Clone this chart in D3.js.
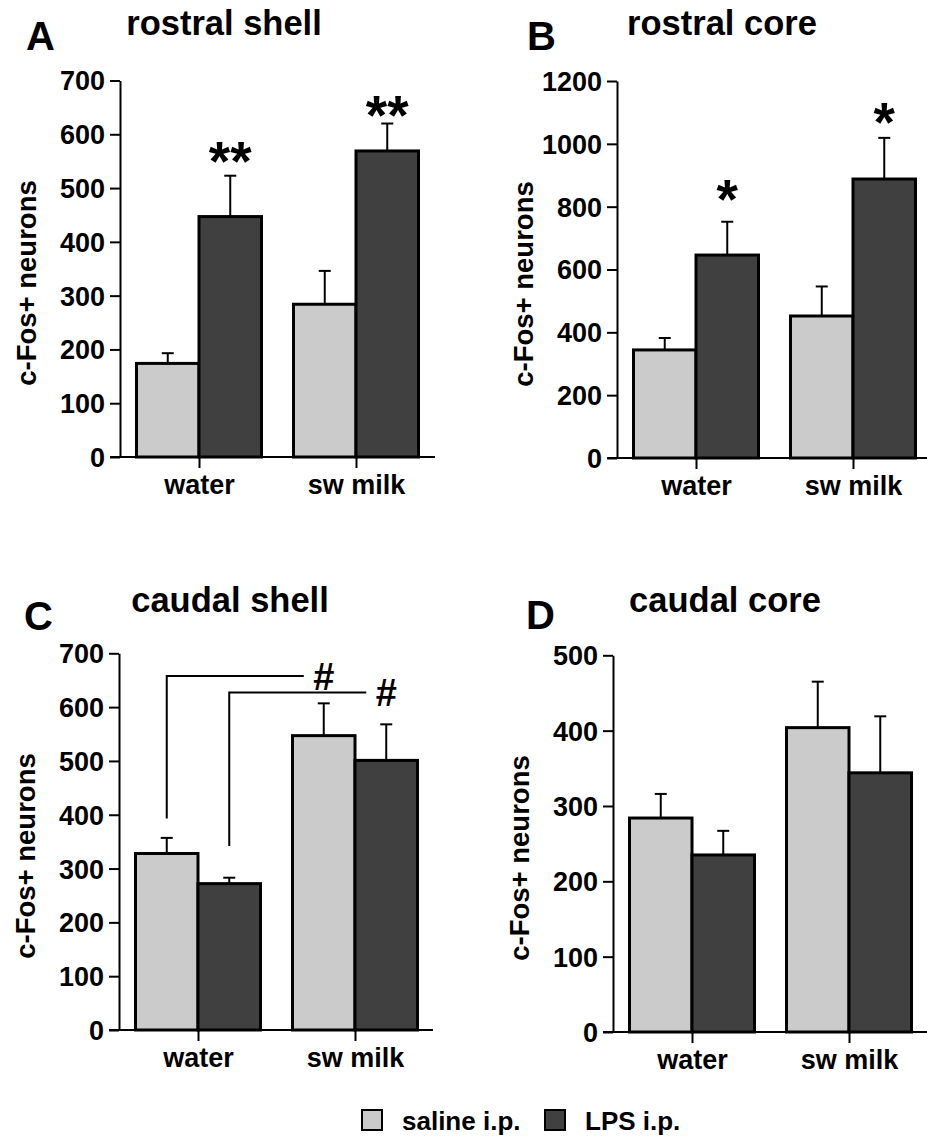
<!DOCTYPE html>
<html>
<head>
<meta charset="utf-8">
<script src="https://cdn.jsdelivr.net/npm/d3@7"></script>
<style>
body { margin: 0; background: #fff; }
text { font-family: "Liberation Sans", Arial, sans-serif; font-weight: bold; fill: #000; }
</style>
</head>
<body>
<svg id="fig" width="927" height="1136"></svg>
<script>
// ---- data ----
var groups = ["water", "sw milk"];
var treatments = ["saline i.p.", "LPS i.p."];
var letters = ["A", "B", "C", "D"];
var titles = ["rostral shell", "rostral core", "caudal shell", "caudal core"];
var yMax = [700, 1200, 700, 500];
var yStep = [100, 200, 100, 100];

// means and SEM, [water, sw milk] per panel
var salineMean = [[174, 284], [344, 452], [328, 547], [284, 404]];
var salineSem  = [[19, 62],   [38, 94],   [29, 60],   [32, 61]];
var lpsMean    = [[447, 569], [646, 888], [272, 501], [235, 344]];
var lpsSem     = [[76, 51],   [106, 131], [11, 67],   [32, 75]];

// significance marks above LPS bars (value = where the mark sits)
var stars      = [["**", "**"], ["*", "*"], null, null];
var starLevel  = [[567, 652], [853, 1097], null, null];

// panel C: water vs sw milk within each treatment (#)
var hashFrom  = [393, 342];   // bracket foot
var hashLevel = [658, 627];   // bracket height

var colors = ["#cbcbcb", "#404040"];

// ---- layout ----
var layout = [
  {x: 120, top: 80.5,  bottom: 457,  right: 435, title: [224, 35],  letter: [26, 50]},
  {x: 617, top: 81,    bottom: 458,  right: 927, title: [722, 35],  letter: [527, 50]},
  {x: 119, top: 653.3, bottom: 1030, right: 433, title: [230, 612], letter: [24, 630]},
  {x: 613, top: 655.3, bottom: 1032, right: 927, title: [725, 612], letter: [526, 629]}
];
var barW = 62.5;

var svg = d3.select("#fig");

layout.forEach(function(L, i){
  var g = svg.append("g").attr("class", "panel");

  var y = d3.scaleLinear().domain([0, yMax[i]]).range([L.bottom, L.top]);
  var x = d3.scalePoint().domain(groups).range([L.x + 79, L.x + 236]);
  var tx = d3.scaleBand().domain(treatments).range([-barW, barW]);

  var rows = [];
  groups.forEach(function(grp, gi){
    rows.push({g: grp, t: treatments[0], m: salineMean[i][gi], e: salineSem[i][gi], c: colors[0]});
    rows.push({g: grp, t: treatments[1], m: lpsMean[i][gi], e: lpsSem[i][gi], c: colors[1]});
  });

  // error bars (upper only)
  var eb = g.append("g").attr("stroke", "#000").attr("stroke-width", 2);
  rows.forEach(function(d){
    var cx = x(d.g) + tx(d.t) + tx.bandwidth() / 2;
    eb.append("line").attr("x1", cx).attr("x2", cx).attr("y1", y(d.m)).attr("y2", y(d.m + d.e));
    eb.append("line").attr("x1", cx - 6).attr("x2", cx + 6).attr("y1", y(d.m + d.e)).attr("y2", y(d.m + d.e));
  });

  // bars
  g.append("g").selectAll("rect")
    .data(rows)
    .enter()
    .append("rect")
    .attr("x", function(d){ return x(d.g) + tx(d.t); })
    .attr("y", function(d){ return y(d.m); })
    .attr("width", tx.bandwidth())
    .attr("height", function(d){ return y(0) - y(d.m); })
    .attr("fill", function(d){ return d.c; })
    .attr("stroke", "#000")
    .attr("stroke-width", 3);

  // y axis
  var ya = g.append("g")
    .attr("transform", "translate(" + L.x + ",0)")
    .call(d3.axisLeft(y)
      .tickValues(d3.range(0, yMax[i] + 1, yStep[i]))
      .tickFormat(d3.format("d"))
      .tickSize(10).tickSizeOuter(0).tickPadding(5));
  ya.attr("font-family", null).attr("font-size", null);
  ya.selectAll("path, line").attr("stroke-width", 2);
  ya.selectAll("text").style("font-size", "27px").attr("dy", "0.35em");

  // x axis
  g.append("line")
    .attr("x1", L.x - 10).attr("x2", L.right)
    .attr("y1", L.bottom).attr("y2", L.bottom)
    .attr("stroke", "#000").attr("stroke-width", 2);
  var xa = g.append("g")
    .attr("transform", "translate(0," + L.bottom + ")")
    .call(d3.axisBottom(x).tickSize(11).tickPadding(7));
  xa.attr("font-family", null).attr("font-size", null);
  xa.select(".domain").remove();
  xa.selectAll("line").attr("stroke-width", 2);
  xa.selectAll("text").style("font-size", "27px");

  // axis title
  g.append("text")
    .attr("transform", "translate(" + (L.x - 94) + "," + (L.bottom - 174) + ") rotate(-90)")
    .attr("text-anchor", "middle")
    .attr("dy", "0.35em")
    .style("font-size", "27.5px")
    .text("c-Fos+ neurons");

  // panel title and letter
  g.append("text")
    .attr("x", L.title[0]).attr("y", L.title[1])
    .attr("text-anchor", "middle")
    .style("font-size", "34.5px")
    .text(titles[i]);
  g.append("text")
    .attr("x", L.letter[0]).attr("y", L.letter[1])
    .style("font-size", "40px")
    .text(letters[i]);

  // stars
  if (stars[i]) {
    groups.forEach(function(grp, gi){
      g.append("text")
        .attr("x", x(grp) + tx(treatments[1]) + tx.bandwidth() / 2)
        .attr("y", y(starLevel[i][gi]))
        .attr("dy", "0.5em")
        .attr("text-anchor", "middle")
        .style("font-size", "55px")
        .text(stars[i][gi]);
    });
  }

  // # brackets (panel C)
  if (i === 2) {
    treatments.forEach(function(t, ti){
      var x0 = x(groups[0]) + tx(t) + tx.bandwidth() / 2;
      var x1 = x(groups[1]) + tx(t) + tx.bandwidth() / 2;
      g.append("path")
        .attr("d", "M" + x0 + "," + y(hashFrom[ti]) + "V" + y(hashLevel[ti]) + "H" + (x1 - 20))
        .attr("fill", "none")
        .attr("stroke", "#000")
        .attr("stroke-width", 2);
      g.append("text")
        .attr("x", x1)
        .attr("y", y(hashLevel[ti]))
        .attr("dy", "0.36em")
        .attr("text-anchor", "middle")
        .style("font-size", "38px")
        .text("#");
    });
  }
});

// legend
var leg = svg.append("g").attr("transform", "translate(362,1110)");
var lx = [0, 183];
treatments.forEach(function(t, ti){
  leg.append("rect")
    .attr("x", lx[ti]).attr("y", 0)
    .attr("width", 20).attr("height", 20)
    .attr("fill", colors[ti])
    .attr("stroke", "#000").attr("stroke-width", 2);
  leg.append("text")
    .attr("x", lx[ti] + 40).attr("y", 20)
    .style("font-size", "26px")
    .text(t);
});
</script>
</body>
</html>
